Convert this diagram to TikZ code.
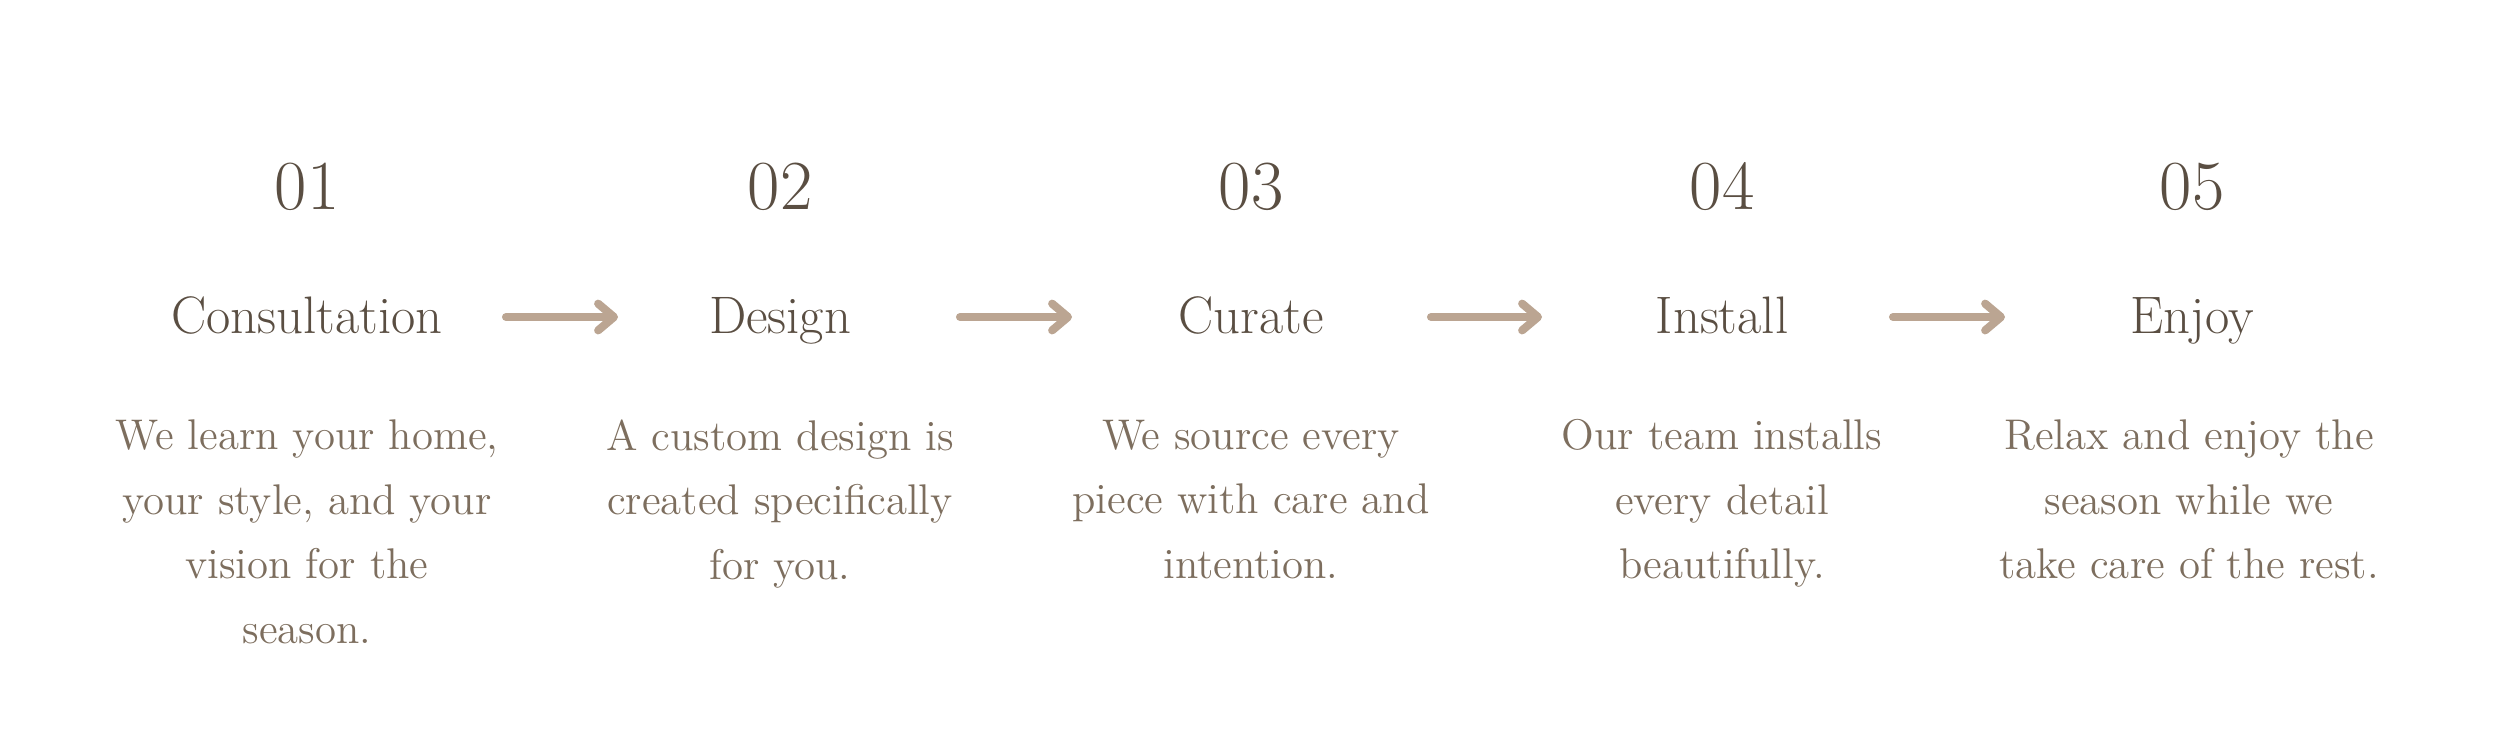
\documentclass[tikz,border=0pt]{standalone}
\usetikzlibrary{arrows.meta}
\definecolor{numc}{HTML}{5A4E42}
\definecolor{descc}{HTML}{7D6E5E}
\definecolor{arrc}{HTML}{BBA592}
\begin{document}
\begin{tikzpicture}[x=0.01cm,y=-0.01cm,
  num/.style={text=numc,font=\fontsize{20}{24}\selectfont,inner sep=0pt,anchor=base},
  title/.style={text=numc,font=\fontsize{15}{18}\selectfont,inner sep=0pt,anchor=base},
  desc/.style={text=descc,font=\fontsize{12.2}{18.35}\selectfont,align=center,inner sep=0pt,anchor=north},
  flow/.style={draw=arrc,line width=2.3pt,line cap=round,-{Straight Barb[round,length=4.5pt,width=7.6pt]}}]
\useasboundingbox (0,0) rectangle (2500,750);
\foreach \i/\x/\t in {1/307/Consultation,2/780/Design,3/1251/Curate,4/1722/Install,5/2192/Enjoy}{
  \node[num] (n\i) at (\x,209) {0\i};
  \node[title] (t\i) at (\x,333) {\t};
}
\node[desc] (d1) at (307,419) {We learn your home,\\your style, and your\\vision for the\\season.};
\node[desc] (d2) at (780,419) {A custom design is\\created specifically\\for you.};
\node[desc] (d3) at (1251,419) {We source every\\piece with care and\\intention.};
\node[desc] (d4) at (1722,419) {Our team installs\\every detail\\beautifully.};
\node[desc] (d5) at (2189,419) {Relax and enjoy the\\season while we\\take care of the rest.};
\coordinate (a1s) at (506,317); \coordinate (a1e) at (618,317);
\coordinate (a2s) at (960,317); \coordinate (a2e) at (1072,317);
\coordinate (a3s) at (1431,317); \coordinate (a3e) at (1542,317);
\coordinate (a4s) at (1893,317); \coordinate (a4e) at (2005,317);
\foreach \i in {1,2,3,4}{\draw[flow] (a\i s) -- (a\i e);}
\end{tikzpicture}
\end{document}
